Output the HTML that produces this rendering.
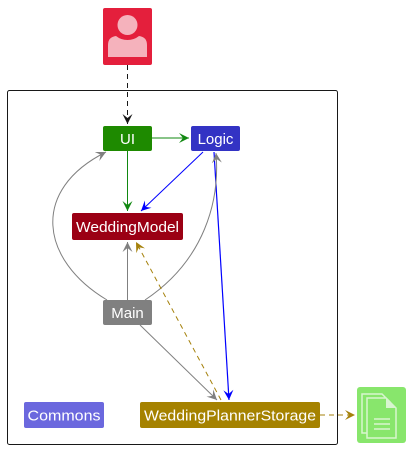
<!DOCTYPE html>
<html><head><style>
body{margin:0;background:#fff;width:411px;height:449px;overflow:hidden}
text{font-family:"Liberation Sans","DejaVu Sans",sans-serif;font-size:15px;fill:#fff}
</style></head><body>
<svg width="411" height="449" viewBox="0 0 411 449" xmlns="http://www.w3.org/2000/svg">
<defs>
<marker id="ag" markerWidth="12" markerHeight="10" refX="10" refY="5" orient="auto" markerUnits="userSpaceOnUse"><path d="M0,0 L10,5 L0,10 L4,5 Z" fill="#118811"/></marker>
<marker id="ab" markerWidth="12" markerHeight="10" refX="10" refY="5" orient="auto" markerUnits="userSpaceOnUse"><path d="M0,0 L10,5 L0,10 L4,5 Z" fill="#0000ff"/></marker>
<marker id="ay" markerWidth="12" markerHeight="10" refX="10" refY="5" orient="auto" markerUnits="userSpaceOnUse"><path d="M0,0 L10,5 L0,10 L4,5 Z" fill="#808080"/></marker>
<marker id="ao" markerWidth="12" markerHeight="10" refX="10" refY="5" orient="auto" markerUnits="userSpaceOnUse"><path d="M0,0 L10,5 L0,10 L4,5 Z" fill="#a5810b"/></marker>
<marker id="ak" markerWidth="12" markerHeight="10" refX="10" refY="5" orient="auto" markerUnits="userSpaceOnUse"><path d="M0,0 L10,5 L0,10 L4,5 Z" fill="#181818"/></marker>
</defs>
<rect x="7.5" y="90.5" width="330" height="354" rx="2" fill="none" stroke="#181818" stroke-width="1"/>
<rect x="103" y="8" width="49" height="57" rx="2" fill="#e41f3c"/>
<circle cx="127.5" cy="25" r="10" fill="#f5b2bc"/>
<path d="M108,57 L108,45 Q108,37 116,36 Q121,40 127.5,40 Q134,40 139,36 Q147,37 147,45 L147,57 Z" fill="#f5b2bc"/>
<line x1="127.5" y1="65" x2="127.5" y2="124" stroke="#181818" stroke-dasharray="5,4" marker-end="url(#ak)"/>
<line x1="152" y1="138" x2="189" y2="138" stroke="#118811" marker-end="url(#ag)"/>
<line x1="127.5" y1="151" x2="127.5" y2="211" stroke="#118811" marker-end="url(#ag)"/>
<line x1="203" y1="152" x2="141" y2="211" stroke="#0000ff" marker-end="url(#ab)"/>
<path d="M214,152 L229,400" fill="none" stroke="#0000ff" stroke-width="1.2" marker-end="url(#ab)"/>
<path d="M107,300 C40,260 30,190 106,152" fill="none" stroke="#808080" marker-end="url(#ay)"/>
<path d="M145,300 C205,260 220,200 216,153" fill="none" stroke="#808080" marker-end="url(#ay)"/>
<line x1="127.5" y1="300" x2="127.5" y2="242" stroke="#808080" marker-end="url(#ay)"/>
<line x1="140" y1="325" x2="217" y2="400" stroke="#808080" marker-end="url(#ay)"/>
<line x1="221" y1="400" x2="136" y2="242" stroke="#a5810b" stroke-dasharray="5,4" marker-end="url(#ao)"/>
<line x1="320" y1="415" x2="355" y2="415" stroke="#a5810b" stroke-dasharray="5,4" marker-end="url(#ao)"/>
<rect x="103" y="126" width="49" height="25" rx="2" fill="#1e8a00"/><text x="127.5" y="144" text-anchor="middle">UI</text>
<rect x="191" y="126" width="49" height="25" rx="2" fill="#3333c4"/><text x="215.5" y="144" text-anchor="middle">Logic</text>
<rect x="72" y="213" width="111" height="27" rx="2" fill="#9b0014"/><text x="127.5" y="232" text-anchor="middle" textLength="103" lengthAdjust="spacingAndGlyphs">WeddingModel</text>
<rect x="103" y="300" width="49" height="25" rx="2" fill="#808080"/><text x="127.5" y="318" text-anchor="middle">Main</text>
<rect x="24" y="402" width="80" height="26" rx="2" fill="#6b68de"/><text x="64" y="420.5" text-anchor="middle" textLength="73" lengthAdjust="spacingAndGlyphs">Commons</text>
<rect x="140" y="402" width="180" height="26" rx="2" fill="#a58200"/><text x="230" y="420.5" text-anchor="middle" textLength="172" lengthAdjust="spacingAndGlyphs">WeddingPlannerStorage</text>
<rect x="357" y="387" width="49" height="56" rx="3" fill="#88e66c"/>
<path d="M362,394 L382,394 L390,402 L390,433 L362,433 Z" fill="none" stroke="#d8f5cf" stroke-width="1.5"/>
<path d="M367,398 L386,398 L396,408 L396,438 L367,438 Z" fill="#88e66c" stroke="#d8f5cf" stroke-width="1.5"/>
<path d="M386,398 L386,408 L396,408" fill="#d8f5cf"/>
<line x1="374" y1="419" x2="390" y2="419" stroke="#d8f5cf" stroke-width="1.5"/>
<line x1="374" y1="424" x2="390" y2="424" stroke="#d8f5cf" stroke-width="1.5"/>
<line x1="374" y1="429" x2="390" y2="429" stroke="#d8f5cf" stroke-width="1.5"/>
</svg>
</body></html>
